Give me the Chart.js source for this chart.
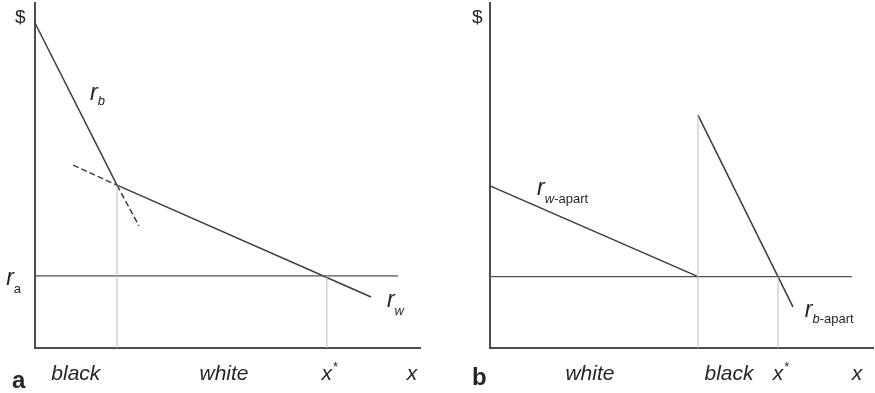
<!DOCTYPE html>
<html>
<head>
<meta charset="utf-8">
<script src="https://cdn.jsdelivr.net/npm/chart.js@4/dist/chart.umd.min.js"></script>
<style>
  html, body { margin: 0; padding: 0; background: #fff; overflow: hidden; }
  #wrap { position: relative; width: 875px; height: 393px; }
  canvas { position: absolute; top: 0; }
</style>
</head>
<body>
<div id="wrap">
  <canvas id="panelA" width="437" height="393" style="left:0"></canvas>
  <canvas id="panelB" width="438" height="393" style="left:437px"></canvas>
</div>
<script>
// ---- Panel a: black and white rent curves, with the ag rent r_a ----
const aRb      = [{x: 0, y: 94.2}, {x: 21.3, y: 47.2}];
const aRbExt   = [{x: 21.3, y: 47.2}, {x: 27.0, y: 35.4}];
const aRwExt   = [{x: 9.9, y: 53.0}, {x: 21.3, y: 47.2}];
const aRw      = [{x: 21.3, y: 47.2}, {x: 87.3, y: 14.8}];
const aRa      = [{x: 0, y: 20.9}, {x: 94.3, y: 20.9}];
const aBorder  = [{x: 21.3, y: 0}, {x: 21.3, y: 47.2}];
const aEdge    = [{x: 75.8, y: 0}, {x: 75.8, y: 20.9}];
const aTickText   = ['black', 'white', 'x*', 'x'];
const aTickValues = [10.6, 49.1, 75.8, 97.9];

// ---- Panel b: segregated rents, white near the centre ----
const bRw      = [{x: 0, y: 47.0}, {x: 54.3, y: 20.7}];
const bRb      = [{x: 54.3, y: 67.5}, {x: 79.1, y: 11.9}];
const bRa      = [{x: 0, y: 20.7}, {x: 94.5, y: 20.7}];
const bBorder  = [{x: 54.3, y: 0}, {x: 54.3, y: 67.5}];
const bEdge    = [{x: 75.2, y: 0}, {x: 75.2, y: 20.7}];
const bTickText   = ['white', 'black', 'x*', 'x'];
const bTickValues = [26.1, 62.4, 75.2, 95.8];

const FAMILY = '"Liberation Sans", Arial, Helvetica, sans-serif';
const INK = '#262626';

// Draws the text items of a panel; anchors are in data units so the
// labels follow the scales.
const labelPlugin = {
  id: 'panelLabels',
  afterDraw(chart, args, opts) {
    const ctx = chart.ctx;
    const xs = chart.scales.x, ys = chart.scales.y;
    ctx.save();
    ctx.fillStyle = INK;
    ctx.textBaseline = 'alphabetic';
    ctx.textAlign = 'left';
    for (const item of opts.items) {
      const widths = item.parts.map(p => { ctx.font = p.f + ' ' + FAMILY; return ctx.measureText(p.t).width; });
      // centred items are centred on their first part
      let px = xs.getPixelForValue(item.x);
      if (item.align === 'center') px -= widths[0] / 2;
      const py = ys.getPixelForValue(item.y);
      item.parts.forEach((p, i) => {
        ctx.font = p.f + ' ' + FAMILY;
        ctx.fillText(p.t, px + (p.dx || 0), py + (p.dy || 0));
        px += widths[i] + (p.dx || 0);
      });
    }
    ctx.restore();
  }
};

// Labels along the bottom axis; a trailing '*' is set as a superscript.
function tickItems(texts, values, y) {
  return texts.map((t, i) => {
    if (t.endsWith('*')) {
      return { x: values[i], y, align: 'center', parts: [
        { t: t.slice(0, -1), f: 'italic 21px' },
        { t: '*', f: '13px', dy: -9, dx: 1 }
      ]};
    }
    return { x: values[i], y, align: 'center', parts: [{ t, f: 'italic 21px' }] };
  });
}

function line(data, color, width, dash) {
  return {
    data, borderColor: color, borderWidth: width, borderDash: dash || [],
    pointRadius: 0, pointHoverRadius: 0, fill: false, tension: 0, clip: false
  };
}

function scale() {
  return {
    type: 'linear', min: 0, max: 100,
    grid: { display: false, drawTicks: false },
    ticks: { display: false },
    border: { display: true, color: '#4d4d4d', width: 2 },
    afterFit(s) { if (s.isHorizontal()) s.height = 0; else s.width = 0; }
  };
}

function makePanel(id, datasets, padding, items) {
  return new Chart(document.getElementById(id), {
    type: 'line',
    data: { datasets },
    plugins: [labelPlugin],
    options: {
      responsive: false,
      animation: false,
      devicePixelRatio: 1,
      layout: { padding },
      scales: { x: scale(), y: scale() },
      plugins: {
        legend: { display: false },
        tooltip: { enabled: false },
        panelLabels: { items }
      },
      events: []
    }
  });
}

const MAIN = '#3c3c3c', GUIDE = '#bdbdbd';

makePanel('panelA', [
  line(aBorder, GUIDE, 1),
  line(aEdge, GUIDE, 1),
  line(aRa, '#505050', 1.3),
  line(aRb, MAIN, 1.5),
  line(aRbExt, MAIN, 1.5, [6, 3]),
  line(aRwExt, MAIN, 1.5, [6, 3]),
  line(aRw, MAIN, 1.5)
], { left: 35, right: 17, top: 3, bottom: 45 }, [
  { x: -5.2, y: 94.2, parts: [{ t: '$', f: '19px' }] },
  { x: 14.3, y: 71.9, parts: [{ t: 'r', f: 'italic 23px' }, { t: 'b', f: 'italic 13px', dy: 5 }] },
  { x: -7.5, y: 18.3, parts: [{ t: 'r', f: 'italic 23px' }, { t: 'a', f: '13px', dy: 8 }] },
  { x: 91.4, y: 11.9, parts: [{ t: 'r', f: 'italic 23px' }, { t: 'w', f: 'italic 13px', dy: 8 }] },
  { x: -6.0, y: -11.6, parts: [{ t: 'a', f: 'bold 24px' }] },
  ...tickItems(aTickText, aTickValues, -9.3)
]);

makePanel('panelB', [
  line(bBorder, GUIDE, 1),
  line(bEdge, GUIDE, 1),
  line(bRa, '#505050', 1.3),
  line(bRw, MAIN, 1.5),
  line(bRb, MAIN, 1.5)
], { left: 53, right: 2, top: 3, bottom: 45 }, [
  { x: -4.7, y: 94.2, parts: [{ t: '$', f: '19px' }] },
  { x: 12.3, y: 44.3, parts: [{ t: 'r', f: 'italic 23px' }, { t: 'w', f: 'italic 13px', dy: 8 }, { t: '-apart', f: '13px', dy: 8 }] },
  { x: 82.2, y: 9.0, parts: [{ t: 'r', f: 'italic 23px' }, { t: 'b', f: 'italic 13px', dy: 6 }, { t: '-apart', f: '13px', dy: 6 }] },
  { x: -4.7, y: -10.7, parts: [{ t: 'b', f: 'bold 24px' }] },
  ...tickItems(bTickText, bTickValues, -9.3)
]);
</script>
</body>
</html>
